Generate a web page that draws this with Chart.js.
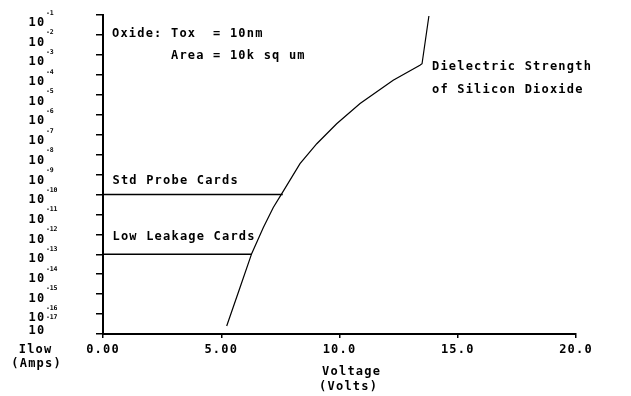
<!DOCTYPE html>
<html>
<head>
<meta charset="utf-8">
<title>Dielectric Strength</title>
<script src="https://cdn.jsdelivr.net/npm/chart.js@4.4.1/dist/chart.umd.min.js"></script>
<style>
  body { margin: 0; background: #fff; }
  canvas { display: block; }
</style>
</head>
<body>
<canvas id="grafico" width="631" height="396"></canvas>
<script>
// Curve: oxide leakage current vs voltage
const voltage = [5.23, 5.79, 6.29, 6.78, 7.20, 7.56, 8.33, 9.04, 9.88, 10.87, 12.27, 13.40, 13.49, 13.78];
const current = [2.5e-17, 2.1e-15, 1.1e-13, 2.2e-12, 2.2e-11, 1.1e-10, 3.5e-9, 3.5e-8, 3.5e-7, 3.6e-6, 5.4e-5, 3.0e-4, 3.6e-4, 8.9e-2];

// Probe card floor lines
const stdProbeV = [0, 7.60];
const stdProbeI = [1e-10, 1e-10];
const lowLeakV = [0, 6.29];
const lowLeakI = [1e-13, 1e-13];

// Axes
const xTicks = [0, 5, 10, 15, 20];
const xTickLabels = ['0.00', '5.00', '10.0', '15.0', '20.0'];
const yExponents = [-1, -2, -3, -4, -5, -6, -7, -8, -9, -10, -11, -12, -13, -14, -15, -16, -17];

const FONTE = 'bold 12px "DejaVu Sans Mono"';
const ESPACO = '1.2px';

function pontos(xs, ys) {
  return xs.map((v, i) => ({ x: v, y: ys[i] }));
}

// draw text with letter spacing, centred on cx
function textoCentro(ctx, txt, cx, by) {
  const w = ctx.measureText(txt).width - 1.2;
  ctx.fillText(txt, cx - w / 2, by);
}

const textos = {
  id: 'textos',
  beforeDraw(chart) {
    chart.ctx.letterSpacing = ESPACO;
  },
  afterDraw(chart) {
    const ctx = chart.ctx;
    const xs = chart.scales.x;
    const ys = chart.scales.y;
    ctx.save();
    ctx.fillStyle = '#000';
    ctx.textAlign = 'left';
    ctx.textBaseline = 'alphabetic';

    // y tick labels 10^n
    yExponents.forEach((e, k) => {
      const py = ys.getPixelForValue(Math.pow(10, e));
      let base = py + 11 - (py - ys.top) * 0.012;
      let supY = base - 11.5;
      let supX = 46;
      if (k === yExponents.length - 1) {
        base = ys.bottom;
        supY = ys.bottom - 15.5;
      }
      ctx.font = FONTE;
      ctx.letterSpacing = ESPACO;
      ctx.fillText('10', 28.5, base);
      ctx.font = 'bold 6.5px "DejaVu Sans Mono"';
      ctx.letterSpacing = '-0.2px';
      ctx.fillText(String(e), supX, supY);
    });

    ctx.font = FONTE;
    ctx.letterSpacing = ESPACO;
    const x0 = xs.getPixelForValue(0);

    ctx.fillText('Oxide: Tox  = 10nm', x0 + 9, 37);
    ctx.fillText('       Area = 10k sq um', x0 + 9, 59);

    ctx.fillText('Dielectric Strength', 432, 70);
    ctx.fillText('of Silicon Dioxide', 432, 93);

    ctx.fillText('Std Probe Cards', x0 + 9.5, ys.getPixelForValue(1e-10) - 10.5);
    ctx.fillText('Low Leakage Cards', x0 + 9.5, ys.getPixelForValue(1e-13) - 14);

    textoCentro(ctx, 'Ilow', 35, 353);
    textoCentro(ctx, '(Amps)', 36, 367);
    textoCentro(ctx, 'Voltage', 351, 375);
    textoCentro(ctx, '(Volts)', 348, 390);
    ctx.restore();
  }
};

new Chart(document.getElementById('grafico').getContext('2d'), {
  type: 'line',
  data: {
    datasets: [
      { data: pontos(voltage, current), borderColor: '#000', borderWidth: 1.2 },
      { data: pontos(stdProbeV, stdProbeI), borderColor: '#000', borderWidth: 1.5 },
      { data: pontos(lowLeakV, lowLeakI), borderColor: '#000', borderWidth: 1.5 }
    ]
  },
  options: {
    responsive: false,
    animation: false,
    parsing: true,
    elements: { point: { radius: 0 }, line: { tension: 0, fill: false } },
    layout: { padding: { left: 96, top: 15, right: 55, bottom: 33.6 } },
    plugins: { legend: { display: false }, tooltip: { enabled: false } },
    scales: {
      x: {
        type: 'linear',
        min: 0,
        max: 20,
        afterBuildTicks: s => { s.ticks = xTicks.map(v => ({ value: v })); },
        ticks: {
          autoSkip: false,
          maxRotation: 0,
          padding: 5,
          color: '#000',
          font: { family: 'DejaVu Sans Mono', size: 12, weight: 'bold' },
          callback: (v, i) => xTickLabels[i]
        },
        grid: { drawOnChartArea: false, drawTicks: true, tickLength: 4, color: '#000', lineWidth: 1.5 },
        border: { display: true, color: '#000', width: 2 }
      },
      y: {
        type: 'logarithmic',
        min: 1e-17,
        max: 1e-1,
        afterBuildTicks: s => { s.ticks = yExponents.map(e => ({ value: Math.pow(10, e) })); },
        ticks: { display: false },
        grid: { drawOnChartArea: false, drawTicks: true, tickLength: 7, color: '#000', lineWidth: 1.5 },
        border: { display: true, color: '#000', width: 2 }
      }
    }
  },
  plugins: [textos]
});
</script>
</body>
</html>
